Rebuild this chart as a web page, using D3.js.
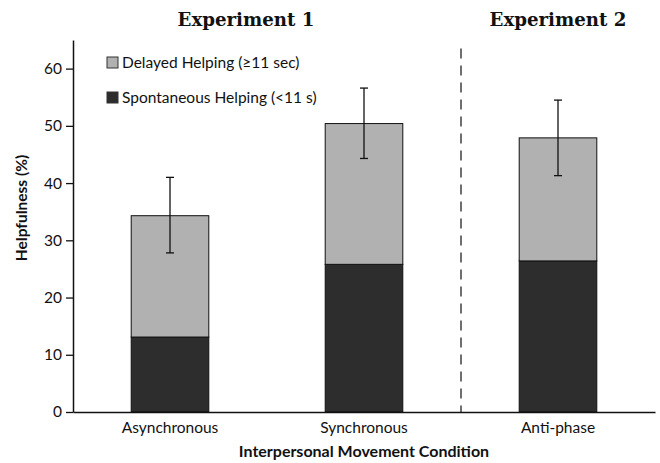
<!DOCTYPE html>
<html><head><meta charset="utf-8">
<script src="https://cdn.jsdelivr.net/npm/d3@7"></script>
<style>body{margin:0;background:#fff}svg{display:block}</style>
</head><body>
<script>
const categories = ["Asynchronous", "Synchronous", "Anti-phase"];
const spontaneous = [13.1, 25.8, 26.4];
const delayed = [21.2, 24.6, 21.5];
const errLow = [27.8, 44.3, 41.3];
const errHigh = [41.0, 56.6, 54.5];
const yTicks = [0, 10, 20, 30, 40, 50, 60];
const seriesNames = ["Delayed Helping (\u226511 sec)", "Spontaneous Helping (<11 s)"];
const experiments = ["Experiment 1", "Experiment 2"];

const W = 660, H = 463;
const m = {left: 73, right: 5, top: 40, bottom: 51};
const sans = "Lato, 'Open Sans', sans-serif";
const svg = d3.select("body").append("svg").attr("width", W).attr("height", H);

const x = d3.scaleBand().domain(categories).range([m.left, W - m.right]).paddingInner(0.6).paddingOuter(0.3);
const y = d3.scaleLinear().domain([0, 65]).range([H - m.bottom, m.top]);

const colDark = "#2d2d2d", colLight = "#b1b1b1";

// bars
const g = svg.append("g");
categories.forEach((c, i) => {
  g.append("rect").attr("x", x(c)).attr("width", x.bandwidth())
    .attr("y", y(spontaneous[i])).attr("height", y(0) - y(spontaneous[i]))
    .attr("fill", colDark).attr("stroke", "#111").attr("stroke-width", 1);
  g.append("rect").attr("x", x(c)).attr("width", x.bandwidth())
    .attr("y", y(spontaneous[i] + delayed[i])).attr("height", y(spontaneous[i]) - y(spontaneous[i] + delayed[i]))
    .attr("fill", colLight).attr("stroke", "#111").attr("stroke-width", 1);
  const cx = x(c) + x.bandwidth() / 2;
  g.append("line").attr("x1", cx).attr("x2", cx).attr("y1", y(errLow[i])).attr("y2", y(errHigh[i])).attr("stroke", "#111").attr("stroke-width", 1.3);
  [errLow[i], errHigh[i]].forEach(v => g.append("line").attr("x1", cx - 4).attr("x2", cx + 4).attr("y1", y(v)).attr("y2", y(v)).attr("stroke", "#111").attr("stroke-width", 1.3));
});

// y axis
const ya = svg.append("g").attr("transform", `translate(${m.left},0)`)
  .call(d3.axisLeft(y).tickValues(yTicks).tickSize(7).tickSizeOuter(0));
ya.select(".domain").attr("stroke", "#111").attr("stroke-width", 1.5);
ya.selectAll(".tick line").attr("stroke", "#111").attr("stroke-width", 1.3);
ya.selectAll("text").attr("font-family", sans).attr("font-size", 15.5).attr("fill", "#111").attr("x", -11);

// x axis
const xa = svg.append("g").attr("transform", `translate(0,${y(0)})`)
  .call(d3.axisBottom(x).tickSize(0).tickSizeOuter(0));
xa.select(".domain").attr("stroke", "#111").attr("stroke-width", 1.5);
xa.selectAll("text").attr("font-family", sans).attr("font-size", 15.5).attr("fill", "#111").attr("dy", "1.15em");

// dashed separator
const sepX = (x(categories[1]) + x.bandwidth() + x(categories[2])) / 2;
svg.append("line").attr("x1", sepX).attr("x2", sepX).attr("y1", y(63.5)).attr("y2", y(0))
  .attr("stroke", "#222").attr("stroke-width", 1.3).attr("stroke-dasharray", "10,7");

// titles
const titleX = [(x(categories[0]) + x(categories[1]) + x.bandwidth()) / 2 - 21, x(categories[2]) + x.bandwidth() / 2];
experiments.forEach((t, i) => svg.append("text").attr("x", titleX[i]).attr("y", 26).attr("text-anchor", "middle")
  .attr("font-family", "'DejaVu Serif', serif").attr("font-weight", "bold").attr("font-size", 18.2).attr("fill", "#111").text(t));

// axis titles
svg.append("text").attr("transform", `translate(27,208) rotate(-90)`).attr("text-anchor", "middle")
  .attr("font-family", sans).attr("font-weight", "bold").attr("font-size", 15.5).attr("fill", "#111").text("Helpfulness (%)");
svg.append("text").attr("x", (m.left + W - m.right) / 2).attr("y", 457).attr("text-anchor", "middle")
  .attr("font-family", sans).attr("font-weight", "bold").attr("font-size", 16).attr("fill", "#111").text("Interpersonal Movement Condition");

// legend
const legCols = [colLight, colDark];
seriesNames.forEach((s, i) => {
  const ly = 57 + i * 35;
  svg.append("rect").attr("x", 107).attr("y", ly).attr("width", 11).attr("height", 11)
    .attr("fill", legCols[i]).attr("stroke", "#333").attr("stroke-width", 1);
  svg.append("text").attr("x", 122).attr("y", ly + 11).attr("font-family", sans).attr("font-size", 15.5).attr("fill", "#111").text(s);
});
</script>
</body></html>
